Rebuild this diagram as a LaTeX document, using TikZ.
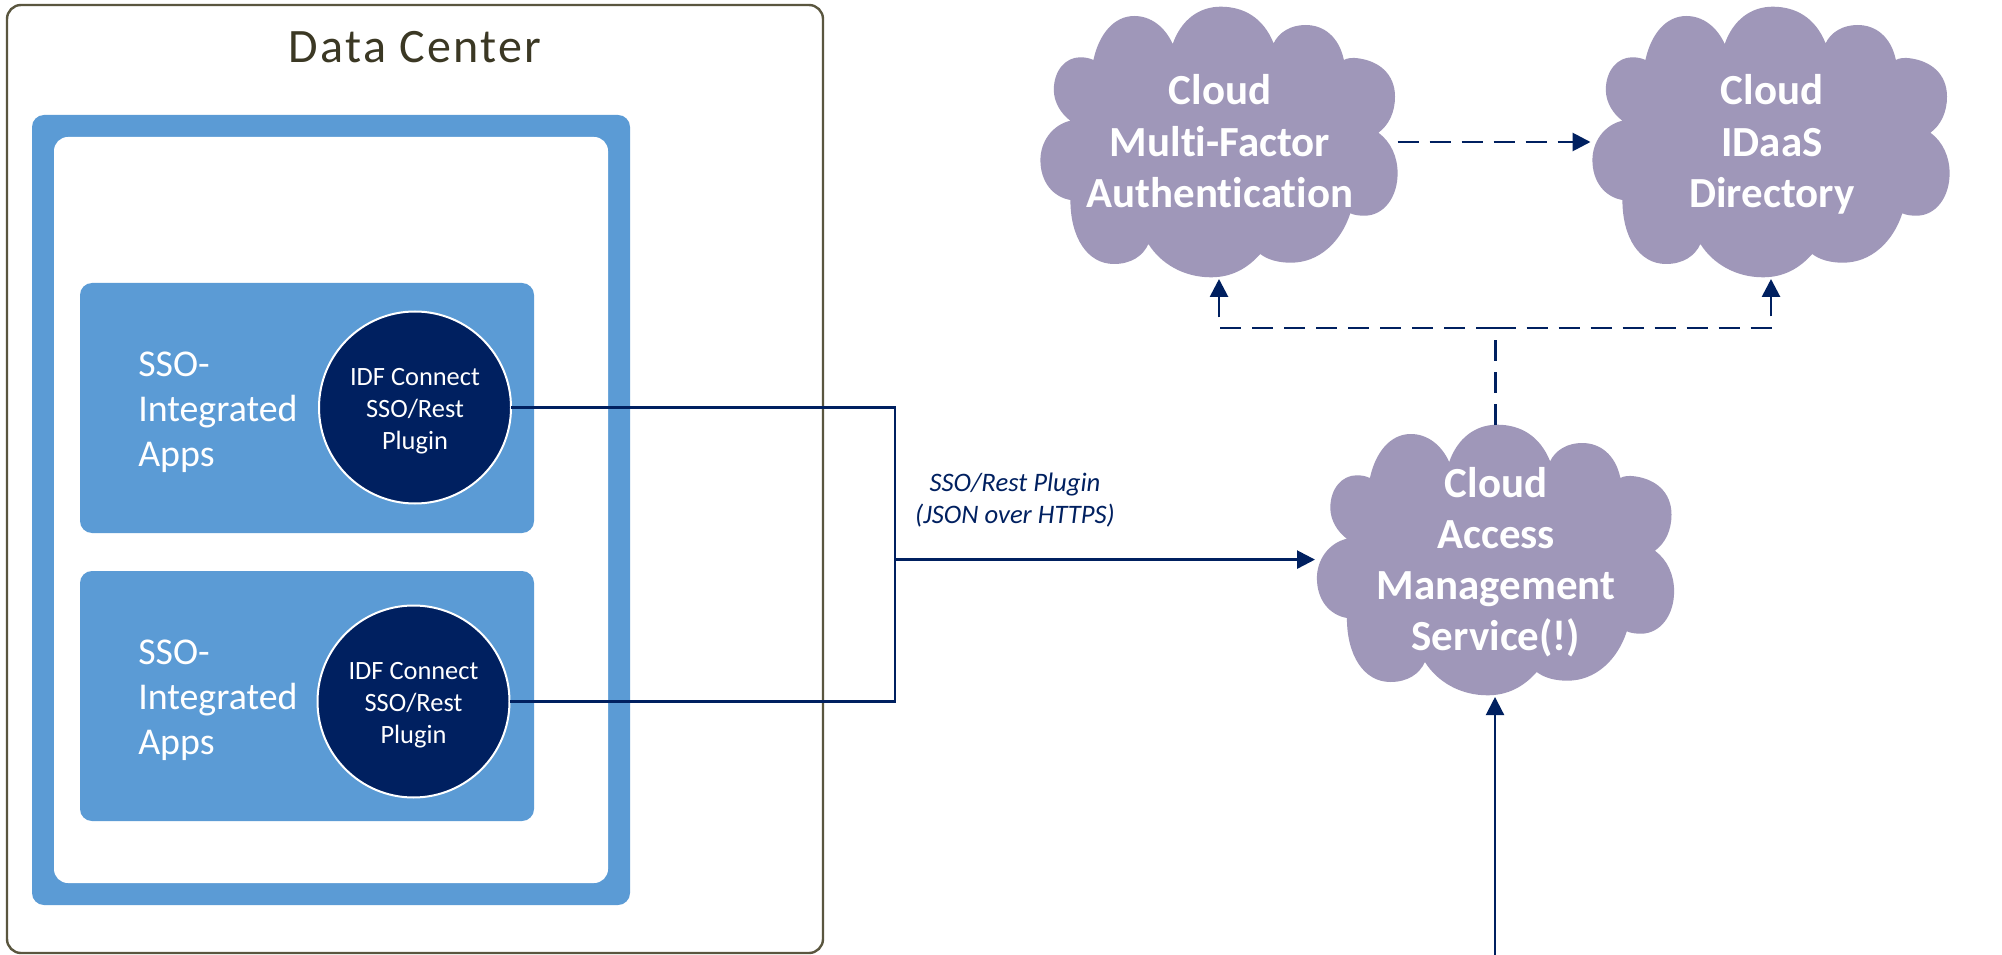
\documentclass[tikz,border=0pt]{standalone}
\usepackage{fontspec}
\setmainfont[Ligatures=NoCommon]{Carlito}
\usetikzlibrary{arrows.meta}
\newcommand{\px}{0.75pt}
\definecolor{navy}{HTML}{002060}
\definecolor{midblue}{HTML}{5B9BD5}
\definecolor{cloudc}{HTML}{9F97B9}
\definecolor{olive}{HTML}{5A563F}
\definecolor{darktxt}{HTML}{3B3824}
\newcommand{\cloudpath}{(-46.3,-98) .. controls (-38,-122) and (-20,-135.3) .. (1.6,-135.3)
 .. controls (24,-135.3) and (44,-125) .. (54.6,-98.7)
 .. controls (60,-110) and (72,-117) .. (86.6,-117)
 .. controls (105,-117) and (120,-105) .. (124.9,-82)
 .. controls (128,-84) and (134,-84.5) .. (139,-83.7)
 .. controls (160,-81) and (176,-68) .. (176,-45.3)
 .. controls (176,-30) and (170,-17) .. (159.4,-9.3)
 .. controls (172,0) and (178.6,15) .. (178.6,31.3)
 .. controls (178.6,55) and (165,73.7) .. (145.4,73.7)
 .. controls (140,73.7) and (135,73) .. (131.3,71.3)
 .. controls (122,100) and (100,120.7) .. (71.9,120.7)
 .. controls (60,120.7) and (49,118) .. (41.2,112)
 .. controls (28,127) and (12,135.3) .. (-8,135.3)
 .. controls (-35,135.3) and (-58,122) .. (-70.6,102)
 .. controls (-76,114) and (-88,122) .. (-105,122)
 .. controls (-132,122) and (-148.6,95) .. (-148.6,58)
 .. controls (-166,55) and (-178.6,40) .. (-178.6,18)
 .. controls (-178.6,0) and (-167,-17) .. (-148.6,-21.3)
 .. controls (-158,-28) and (-165.2,-40) .. (-165.2,-52)
 .. controls (-165.2,-72) and (-153,-84.7) .. (-139,-84.7)
 .. controls (-134,-84.7) and (-130,-84) .. (-125.6,-82)
 .. controls (-120,-108) and (-105,-126) .. (-84.7,-126)
 .. controls (-68,-126) and (-54,-115) .. (-46.3,-98) -- cycle}
\tikzset{
  outerbox/.style={draw=olive,line width=2.4*\px,fill=white,rounded corners=14*\px,inner sep=0,outer sep=0},
  bluebox/.style={fill=midblue,rounded corners=12*\px,inner sep=0,outer sep=0},
  whitebox/.style={fill=white,rounded corners=14*\px,inner sep=0,outer sep=0},
  plugin/.style={circle,fill=navy,draw=white,line width=2*\px,minimum size=192*\px,inner sep=0,outer sep=0},
  plugintext/.style={text=white,align=center,inner sep=0,font=\fontsize{19.8}{24}\selectfont},
  apptext/.style={text=white,align=left,inner sep=0,anchor=west,font=\fontsize{28.4}{33.6}\selectfont},
  cloudanchor/.style={inner sep=0,outer sep=0,minimum width=357*\px,minimum height=270*\px},
  cloudtext/.style={text=white,align=center,inner sep=0,outer sep=0,text depth=0pt,
    font=\bfseries\fontsize{32.2}{38.4}\selectfont},
  cloudfill/.style={fill=cloudc},
  wire/.style={draw=navy,line width=2.1*\px},
  dashwire/.style={draw=navy,line width=2.8*\px,dash pattern=on 21*\px off 11*\px,shorten >=2*\px},
  tip/.style={-{Triangle[length=18*\px,width=18*\px]}},
}
\begin{document}
\begin{tikzpicture}[x=\px,y=-\px]
\useasboundingbox (0,0) rectangle (2002,955);
\fill[white] (0,0) rectangle (2002,955);
% containers
\node[outerbox,minimum width=816*\px,minimum height=948*\px] (dc) at (415,479) {};
\node[bluebox,minimum width=598*\px,minimum height=790*\px] (ring) at (331,510) {};
\node[whitebox,minimum width=554*\px,minimum height=746*\px] (inner) at (331,510) {};
\node[bluebox,minimum width=454*\px,minimum height=250*\px] (app1) at (307,408) {};
\node[bluebox,minimum width=454*\px,minimum height=250*\px] (app2) at (307,696) {};
\node[text=darktxt,inner sep=0,font=\addfontfeature{LetterSpace=5}\fontsize{36}{40}\selectfont] (title) at (415,47) {Data Center};
\node[apptext] (app1t) at (138,412) {SSO-\\Integrated\\Apps};
\node[apptext] (app2t) at (138,700) {SSO-\\Integrated\\Apps};
\node[plugin] (p1) at (415,407.5) {};
\node[plugin] (p2) at (413.5,701.5) {};
\node[plugintext] (p1t) at (415,411) {IDF Connect\\SSO/Rest\\Plugin};
\node[plugintext] (p2t) at (413.5,705) {IDF Connect\\SSO/Rest\\Plugin};
% clouds
\fill[cloudfill,shift={(1219,142)}] \cloudpath;
\fill[cloudfill,shift={(1771,142)}] \cloudpath;
\fill[cloudfill,shift={(1495.5,560)}] \cloudpath;
\node[cloudanchor] (mfa) at (1219,142) {};
\node[cloudanchor] (idaas) at (1771,142) {};
\node[cloudanchor] (cam) at (1495.5,560) {};
\node[cloudtext] (mfat) at (1220,141) {Cloud\\Multi-Factor\\Authentication};
\node[cloudtext] (idaast) at (1772,141) {Cloud\\IDaaS\\Directory};
\node[cloudtext] (camt) at (1496,559) {Cloud\\Access\\Management\\Service(!)};
% connectors
\coordinate (bus) at (895,559.6);
\coordinate (junc) at (1495.5,328);
\coordinate (feed) at (1495,955);
\draw[wire] (p1.east) -| (bus);
\draw[wire] (p2.east) -| (bus);
\draw[wire,line width=2.6*\px,tip,shorten >=2*\px] (bus) -- (bus -| cam.west);
\draw[wire,tip,shorten >=2*\px] (feed) -- (feed |- cam.south);
\draw[dashwire,tip] (mfa.east) -- (idaas.west);
\draw[dashwire,tip] (cam.north) -- (junc) -| (mfa.south);
\draw[dashwire,tip] (cam.north) -- (junc) -| (idaas.south);
\node[text=navy,align=center,inner sep=0,font=\itshape\fontsize{20}{23.5}\selectfont] (lbl) at (1015,500) {SSO/Rest Plugin\\(JSON over HTTPS)};
\end{tikzpicture}
\end{document}
